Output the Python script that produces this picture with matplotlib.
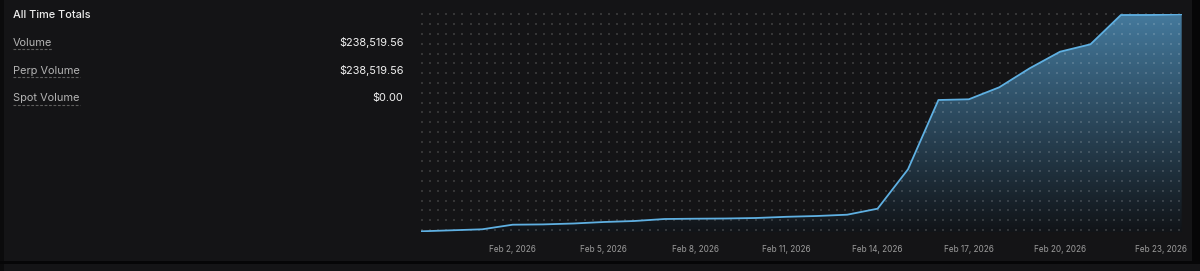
import numpy as np
import matplotlib
matplotlib.use("Agg")
import matplotlib.pyplot as plt
import matplotlib.dates as mdates
import matplotlib.transforms as mtransforms
from matplotlib.patches import Rectangle
import datetime as dt

plt.rcParams['font.family'] = ['Inter', 'DejaVu Sans']

# ---- data ----
dates = [dt.date(2026, 1, 30) + dt.timedelta(days=i) for i in range(26)]
cum_volume = [767, 1863, 2958, 7998, 8327, 9313, 10956, 12052, 14243, 14571,
              14790, 15338, 16653, 17530, 18954, 25527, 68694, 144622, 145389,
              158536, 179350, 197537, 205644, 237748, 237800, 238519.56]
tick_dates = [dt.date(2026, 2, d) for d in (2, 5, 8, 11, 14, 17, 20, 23)]
tick_labels = ["Feb 2, 2026", "Feb 5, 2026", "Feb 8, 2026", "Feb 11, 2026",
               "Feb 14, 2026", "Feb 17, 2026", "Feb 20, 2026", "Feb 23, 2026"]
summary_title = "All Time Totals"
summary_labels = ["Volume", "Perp Volume", "Spot Volume"]
summary_values = ["$238,519.56", "$238,519.56", "$0.00"]

W, H = 1200, 271
BG = "#141416"
fig = plt.figure(figsize=(W / 100, H / 100), dpi=100)
fig.patch.set_facecolor(BG)

# overlay in pixel coords
ov = fig.add_axes([0, 0, 1, 1], zorder=0)
ov.set_xlim(0, W)
ov.set_ylim(H, 0)
ov.axis('off')
ov.add_patch(Rectangle((0, 0), 3.5, H, color="#0b0b0c", lw=0))
ov.add_patch(Rectangle((0, 261), W, 2.5, color="#060607", lw=0))
ov.add_patch(Rectangle((1192, 0), 8, 263, color="#060607", lw=0))

ov.text(13, 15.5, summary_title, color="#ececec", fontsize=7.9, va='center', ha='left', fontweight='medium')
ys = [42.7, 70.7, 98.3]
label_texts = []
for lab, val, y in zip(summary_labels, summary_values, ys):
    t = ov.text(13, y, lab, color="#b4b4b4", fontsize=7.9, va='center', ha='left')
    label_texts.append((t, y))
    ov.text(403.5, y, val, color="#f2f2f2", fontsize=7.85, va='center', ha='right')

# chart axes
x0px, x1px = 421.4, 1181.7
ytop, ybot = 14.3, 232.0
ax = fig.add_axes([x0px / W, (H - ybot) / H, (x1px - x0px) / W, (ybot - ytop) / H], zorder=1)
ax.patch.set_alpha(0)
xd = mdates.date2num(dates)
ymax = max(cum_volume)
ax.set_xlim(xd[0], xd[-1])
ax.set_ylim(0, ymax)
for s in ax.spines.values():
    s.set_visible(False)
ax.set_yticks([])

poly = ax.fill_between(xd, cum_volume, 0, color='none', lw=0)
grad = np.linspace(0, 1, 256)[:, None]
top = np.array([0x44, 0x79, 0x9c]) / 255
bot = np.array([0x11, 0x14, 0x18]) / 255
rgb = (bot[None, :] * (1 - grad) + top[None, :] * grad)
img = np.repeat(rgb[:, None, :], 2, axis=1)
im = ax.imshow(img, extent=[xd[0], xd[-1], 0, ymax], origin='lower', aspect='auto', zorder=1)
im.set_clip_path(poly.get_paths()[0], transform=ax.transData)

# dot grid
pix = mtransforms.Affine2D().scale(1 / W, -1 / H).translate(0, 1) + fig.transFigure
gx = np.arange(421.8, 1183, 8.14)
gy = np.arange(14.3, 232, 9.8)
GX, GY = np.meshgrid(gx, gy)
ax.scatter(GX.ravel(), GY.ravel(), s=0.55, marker='s', color='white', alpha=0.14,
           lw=0, transform=pix, zorder=2, clip_on=False)

ax.plot(xd, cum_volume, color="#5fb0e2", lw=1.3, zorder=3, solid_joinstyle='round')

ax.set_xticks(mdates.date2num(tick_dates))
ax.set_xticklabels(tick_labels)
ax.tick_params(axis='x', length=0, pad=9, labelsize=5.9, labelcolor="#9c9c9c")
last = ax.get_xticklabels()[-1]
last.set_transform(last.get_transform() + mtransforms.ScaledTranslation(9.5 / 100, 0, fig.dpi_scale_trans))

# dashed underlines
fig.canvas.draw()
r = fig.canvas.get_renderer()
for t, y in label_texts:
    bb = t.get_window_extent(r)
    ov.plot([13, 13 + bb.width], [y + 6.5, y + 6.5], color="#5e5e5e", lw=0.8,
            ls=(0, (2.5, 1.5)))

fig.savefig("out.png", dpi=100, facecolor=BG)
